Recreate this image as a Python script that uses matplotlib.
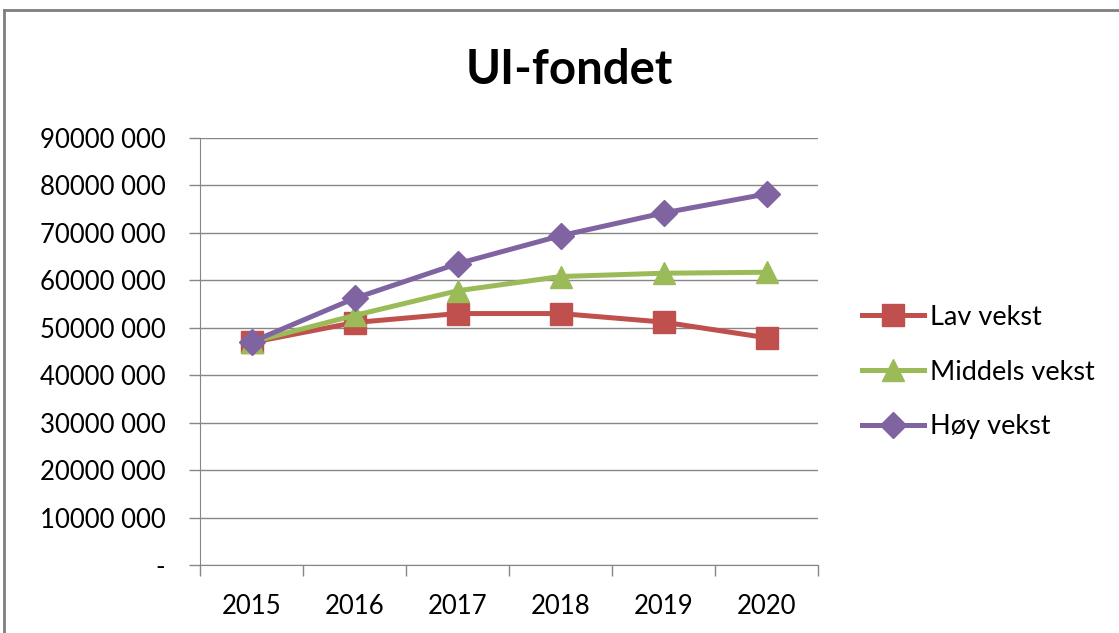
import matplotlib
matplotlib.use("Agg")
import matplotlib.pyplot as plt
from matplotlib.lines import Line2D
import numpy as np

years = ["2015", "2016", "2017", "2018", "2019", "2020"]
lav = [46.9e6, 51.1e6, 53.0e6, 53.0e6, 51.2e6, 47.9e6]
middels = [47.0e6, 52.6e6, 57.8e6, 60.8e6, 61.5e6, 61.7e6]
hoy = [47.0e6, 56.2e6, 63.5e6, 69.4e6, 74.2e6, 78.2e6]
series_names = ["Lav vekst", "Middels vekst", "Høy vekst"]
y_ticks = [0, 10e6, 20e6, 30e6, 40e6, 50e6, 60e6, 70e6, 80e6, 90e6]
y_tick_labels = ["-", "10000 000", "20000 000", "30000 000", "40000 000",
                 "50000 000", "60000 000", "70000 000", "80000 000", "90000 000"]

FONT = ["Lato", "DejaVu Sans"]
plt.rcParams['font.family'] = FONT

fig = plt.figure(figsize=(11.19, 6.33), dpi=100)
W, H = 1119, 633
ax = fig.add_axes([200 / W, 1 - 565 / H, (818 - 200) / W, (565 - 138) / H])

colors = ["#C0504D", "#9BBB59", "#8064A2"]
markers = ["s", "^", "D"]
msizes = [16, 16, 13]
x = np.arange(len(years))
for vals, c, m, ms, name in zip([lav, middels, hoy], colors, markers, msizes, series_names):
    ax.plot(x, vals, color=c, lw=3.6, marker=m, markersize=ms, label=name,
            markeredgecolor=c, zorder=3)

ax.set_xlim(-0.5, len(years) - 0.5)
ax.set_ylim(0, 90e6)
ax.set_yticks(y_ticks)
ax.set_yticklabels(y_tick_labels)
ax.set_xticks(x)
ax.set_xticklabels(years)
ax.set_xticks(np.arange(-0.5, len(years)), minor=True)
ax.tick_params(axis='x', which='major', length=0, pad=21, labelsize=18.5)
ax.tick_params(axis='x', which='minor', length=8, color="#868686", width=1)
ax.tick_params(axis='y', length=8, color="#868686", width=1, pad=17, labelsize=18.5)
ax.yaxis.grid(True, color="#868686", lw=1)
ax.set_axisbelow(True)
for s in ["top", "right"]:
    ax.spines[s].set_visible(False)
ax.spines["left"].set_color("#868686")
ax.spines["bottom"].set_color("#868686")

fig.text(569 / W, 1 - 70 / H, "UI-fondet", ha="center", va="center",
         fontsize=34, fontweight="bold")

leg = ax.legend(loc="center left", bbox_to_anchor=(862 / W, 1 - 372 / H),
                bbox_transform=fig.transFigure, frameon=False, fontsize=19.5,
                handlelength=2.3, labelspacing=1.1, handletextpad=0.2,
                borderpad=0, borderaxespad=0)

# outer chart frame
fig.add_artist(Line2D([4 / W, 4 / W], [0, 1 - 10 / H], transform=fig.transFigure,
                      color="#7f7f7f", lw=2))
fig.add_artist(Line2D([4 / W, 1], [1 - 10 / H, 1 - 10 / H], transform=fig.transFigure,
                      color="#7f7f7f", lw=2))

fig.savefig("out.png", dpi=100)
